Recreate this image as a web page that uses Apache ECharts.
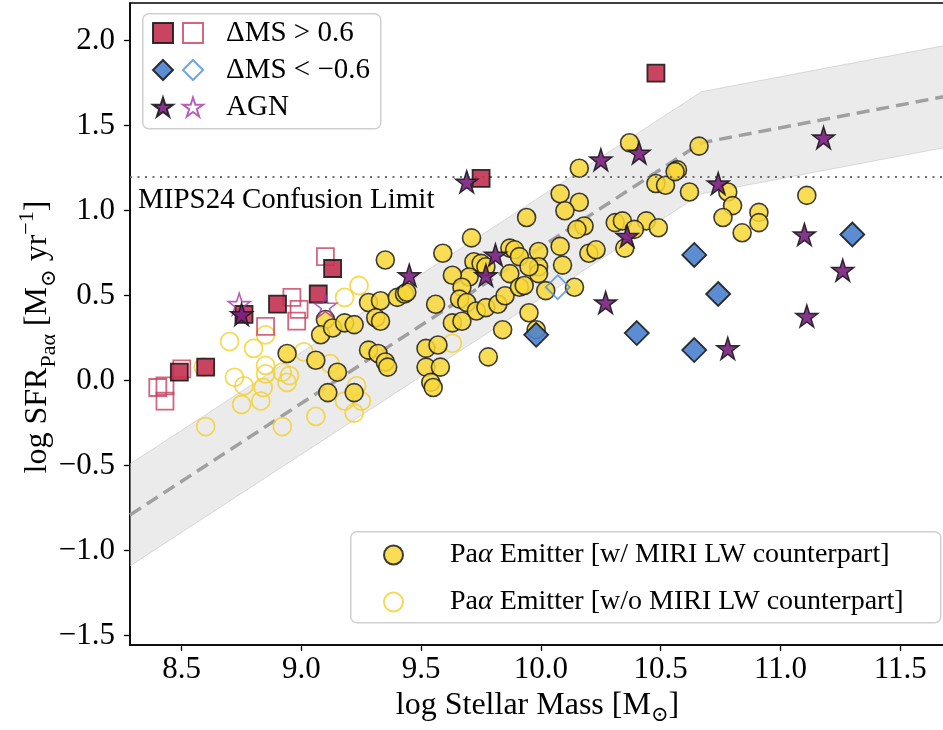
<!DOCTYPE html>
<html>
<head>
<meta charset="utf-8">
<script src="https://cdn.jsdelivr.net/npm/echarts@6/dist/echarts.min.js"></script>
<style>html,body{margin:0;padding:0;background:#fff}#c{width:943px;height:730px}</style>
</head>
<body>
<div id="c"></div>
<script>
// ---- tick labels ----
const xTicks = [8.5, 9.0, 9.5, 10.0, 10.5, 11.0, 11.5];
const yTicks = [-1.5, -1.0, -0.5, 0.0, 0.5, 1.0, 1.5, 2.0];

// ---- main sequence (dashed) and scatter band ----
const msX = [8.284, 10.67, 11.687];
const msY = [-0.79, 1.40, 1.672];
const msScatter = 0.3;
const mipsLimit = 1.2;

// ---- Pa-alpha emitters with MIRI LW counterpart ----
const emitWith = [
  [9.35,0.71],[8.94,0.16],[9.06,0.12],[9.15,0.05],[9.11,-0.07],[9.22,-0.07],[9.28,0.46],[9.33,0.47],
  [9.31,0.37],[9.33,0.35],[9.40,0.49],[9.43,0.51],[9.10,0.36],[9.08,0.27],[9.13,0.31],[9.18,0.34],
  [9.22,0.33],[9.28,0.18],[9.32,0.16],[9.35,0.11],[9.36,0.08],
  [10.37,1.40],[10.16,1.25],[10.48,1.16],[10.52,1.15],[10.57,1.24],[10.08,1.10],[10.16,1.05],[10.10,1.00],
  [9.94,0.96],[9.71,0.84],[9.59,0.75],[10.18,0.91],[10.15,0.89],[10.31,0.93],[10.34,0.94],[10.44,0.94],
  [10.49,0.90],[10.39,0.89],[10.35,0.78],[10.08,0.79],[10.09,0.68],[9.99,0.76],[9.99,0.67],[9.99,0.63],
  [10.20,0.75],[10.23,0.77],[9.87,0.78],[9.89,0.77],[9.91,0.73],[9.95,0.67],[9.87,0.63],[9.72,0.70],
  [9.75,0.69],[9.77,0.67],[9.70,0.61],[9.63,0.62],[9.67,0.55],[9.66,0.48],[9.69,0.46],[9.73,0.41],
  [9.77,0.43],[9.82,0.45],[9.85,0.50],[9.91,0.55],[9.93,0.56],[10.02,0.53],[10.14,0.55],[9.44,0.52],
  [9.56,0.45],[9.63,0.34],[9.67,0.35],[9.95,0.40],[9.84,0.30],[9.98,0.30],[9.52,0.19],[9.57,0.21],
  [9.52,0.08],[9.58,0.08],[9.54,-0.01],[9.55,-0.04],[9.78,0.14],
  [10.66,1.38],[10.56,1.23],[10.62,1.11],[10.78,1.11],[10.80,1.03],[10.76,0.96],[10.84,0.87],
  [10.91,0.99],[10.91,0.93],[11.11,1.09]
];
// ---- Pa-alpha emitters without MIRI LW counterpart ----
const emitWithout = [
  [8.70,0.23],[8.80,0.19],[8.85,0.27],[9.18,0.49],[9.24,0.56],[8.60,-0.27],[8.72,0.02],[8.76,-0.03],
  [8.85,0.09],[8.85,0.04],[8.84,-0.04],[8.83,-0.12],[8.75,-0.14],[8.92,0.05],[8.95,0.03],[8.94,-0.01],
  [9.01,0.17],[9.12,0.10],[9.18,-0.12],[9.23,-0.03],[9.25,-0.12],[9.22,-0.19],[9.06,-0.21],[8.92,-0.27],
  [8.59,0.08],[9.63,0.22]
];
// ---- dMS > 0.6 ----
const aboveFilled = [[10.48,1.81],[9.75,1.19],[9.13,0.66],[9.07,0.51],[8.90,0.45],[8.76,0.39],[8.49,0.05],[8.60,0.08]];
const aboveOpen = [[9.10,0.73],[8.96,0.49],[8.99,0.42],[8.98,0.35],[8.85,0.32],[8.50,0.07],[8.40,-0.04],[8.43,-0.03],[8.43,-0.12]];
// ---- dMS < -0.6 ----
const belowFilled = [[9.98,0.27],[10.40,0.28],[10.64,0.74],[10.74,0.51],[10.64,0.18],[11.30,0.86]];
const belowOpen = [[10.07,0.55]];
// ---- AGN ----
const agnFilled = [[9.69,1.17],[10.25,1.30],[10.41,1.34],[9.45,0.62],[9.81,0.74],[9.77,0.62],[10.36,0.85],
  [10.27,0.46],[10.74,1.16],[11.18,1.43],[11.10,0.86],[11.26,0.65],[11.11,0.38],[10.78,0.19],[8.75,0.39]];
const agnOpen = [[8.74,0.45],[9.10,0.44]];

const FONT = '"Liberation Serif", "DejaVu Serif", serif';
const STAR = 'path://M0,-100L22.45,-30.9L95.1,-30.9L36.33,11.8L58.8,80.9L0,38.2L-58.8,80.9L-36.33,11.8L-95.1,-30.9L-22.45,-30.9Z';
const EDGE = '#1c1c1c';

const legendText = {
  'sqO': 'ΔMS > 0.6',
  'diaO': 'ΔMS < \u22120.6',
  'starO': 'AGN'
};

const chart = echarts.init(document.getElementById('c'), null, {renderer: 'canvas'});

function fmt(v) { return (v < 0 ? '\u2212' : '') + Math.abs(v).toFixed(1); }

const option = {
  animation: false,
  backgroundColor: '#fff',
  grid: {left: 130, right: -2, top: 3, bottom: 85, show: true, borderColor: '#000', borderWidth: 1.5,
    backgroundColor: 'transparent', containLabel: false, outerBoundsMode: 'none'},
  xAxis: {
    type: 'value', min: 8.284, max: 11.687,
    name: '{a|log Stellar Mass [M}{s|⊙}{a|]}',
    nameLocation: 'middle', nameGap: 41,
    nameTextStyle: {rich: {
      a: {fontFamily: FONT, fontSize: 32, color: '#000', lineHeight: 40, verticalAlign: 'middle'},
      s: {fontFamily: '"DejaVu Serif", serif', fontSize: 21, color: '#000', lineHeight: 22, verticalAlign: 'bottom'}
    }},
    axisLine: {show: true, onZero: false, lineStyle: {color: '#000', width: 1.5}},
    axisTick: {show: true, inside: false, length: 6, lineStyle: {color: '#000', width: 1.3}, customValues: xTicks},
    axisLabel: {customValues: xTicks, formatter: fmt, fontFamily: FONT, fontSize: 31, color: '#000', margin: 9},
    splitLine: {show: false}
  },
  yAxis: {
    type: 'value', min: -1.555, max: 2.222,
    name: '{a|log SFR}{s|Paα}{a| [M}{o|⊙}{a| yr}{p|\u22121}{a|]}',
    nameLocation: 'middle', nameGap: 70, nameRotate: 90, nameMoveOverlap: false,
    nameTextStyle: {padding: [0, 26, 0, 0], rich: {
      a: {fontFamily: FONT, fontSize: 32, color: '#000', lineHeight: 44, verticalAlign: 'middle'},
      s: {fontFamily: FONT, fontSize: 22, color: '#000', lineHeight: 22, verticalAlign: 'bottom'},
      o: {fontFamily: '"DejaVu Serif", serif', fontSize: 21, color: '#000', lineHeight: 22, verticalAlign: 'bottom'},
      p: {fontFamily: FONT, fontSize: 22, color: '#000', lineHeight: 22, verticalAlign: 'top'}
    }},
    axisLine: {show: true, onZero: false, lineStyle: {color: '#000', width: 1.5}},
    axisTick: {show: true, inside: false, length: 6, lineStyle: {color: '#000', width: 1.3}, customValues: yTicks},
    axisLabel: {customValues: yTicks, formatter: fmt, fontFamily: FONT, fontSize: 31, color: '#000', margin: 15},
    splitLine: {show: false}
  },
  legend: [
    {
      // filled symbols (no text)
      data: ['sqF', 'diaF', 'starF'],
      orient: 'vertical', left: 147, top: 10,
      itemWidth: 20, itemHeight: 20, itemGap: 1,
      formatter: () => ' ',
      textStyle: {fontSize: 29, lineHeight: 36, fontFamily: FONT},
      selectedMode: false, z: 6
    },
    {
      // open symbols + text
      data: ['sqO', 'diaO', 'starO'],
      orient: 'vertical', left: 177, top: 10,
      itemWidth: 20, itemHeight: 20, itemGap: 1,
      formatter: (n) => legendText[n],
      textStyle: {fontSize: 29, lineHeight: 36, fontFamily: FONT, color: '#000', padding: [0, 0, 0, 18]},
      selectedMode: false, z: 6
    },
    {
      data: ['w', 'wo'],
      orient: 'vertical', left: 378, top: 528,
      itemWidth: 19, itemHeight: 19, itemGap: 3,
      formatter: (n) => n === 'w' ? 'Pa{i|α} Emitter [w/ MIRI LW counterpart]' : 'Pa{i|α} Emitter [w/o MIRI LW counterpart]',
      textStyle: {fontSize: 28, lineHeight: 44, fontFamily: FONT, color: '#000', padding: [0, 0, 0, 42],
        rich: {i: {fontSize: 28, fontStyle: 'italic', fontFamily: FONT, color: '#000'}}},
      selectedMode: false, z: 6
    }
  ],
  graphic: [
    {type: 'rect', left: 142, top: 13, z: 5, shape: {width: 238, height: 115, r: 6},
      style: {fill: 'rgba(255,255,255,0.85)', stroke: '#cfcfcf', lineWidth: 1.5}},
    {type: 'rect', left: 350, top: 531, z: 5, shape: {width: 590, height: 91, r: 6},
      style: {fill: 'rgba(255,255,255,0.85)', stroke: '#cfcfcf', lineWidth: 1.5}}
  ],
  series: [
    {
      name: 'band', type: 'custom', z: 1, silent: true, clip: true,
      data: [0],
      renderItem: function (params, api) {
        const pts = [];
        for (let i = 0; i < msX.length; i++) pts.push(api.coord([msX[i], msY[i] + msScatter]));
        for (let i = msX.length - 1; i >= 0; i--) pts.push(api.coord([msX[i], msY[i] - msScatter]));
        return {type: 'polygon', shape: {points: pts},
          style: {fill: 'rgba(200,200,200,0.36)', stroke: 'rgba(190,190,190,0.5)', lineWidth: 1}};
      }
    },
    {
      name: 'ms', type: 'line', z: 2, silent: true, symbol: 'none',
      data: msX.map((x, i) => [x, msY[i]]),
      lineStyle: {color: '#a0a0a0', width: 3.5, type: [13, 7]},
      markLine: {
        silent: true, symbol: 'none', animation: false,
        lineStyle: {color: '#707070', width: 2.2, type: [2, 5.5]},
        label: {show: true, position: 'insideStartBottom', formatter: 'MIPS24 Confusion Limit',
          fontFamily: FONT, fontSize: 29, color: '#000', distance: [8, 9]},
        data: [{yAxis: mipsLimit}]
      }
    },
    {
      name: 'wo', type: 'scatter', z: 3, symbol: 'circle', symbolSize: 18,
      data: emitWithout,
      itemStyle: {color: 'rgba(0,0,0,0)', borderColor: '#F4D12C', borderWidth: 1.8}
    },
    {
      name: 'w', type: 'scatter', z: 4, symbol: 'circle', symbolSize: 18,
      data: emitWith,
      itemStyle: {color: '#F8D737', borderColor: EDGE, borderWidth: 1.6, opacity: 0.85}
    },
    {
      name: 'sqO', type: 'scatter', z: 5, symbol: 'rect', symbolSize: 17,
      data: aboveOpen,
      itemStyle: {color: 'rgba(0,0,0,0)', borderColor: '#C8405E', borderWidth: 1.8}
    },
    {
      name: 'sqF', type: 'scatter', z: 5, symbol: 'rect', symbolSize: 17,
      data: aboveFilled,
      itemStyle: {color: '#C3304F', borderColor: EDGE, borderWidth: 1.8, opacity: 0.9}
    },
    {
      name: 'diaO', type: 'scatter', z: 5, symbol: 'diamond', symbolSize: 24,
      data: belowOpen,
      itemStyle: {color: 'rgba(0,0,0,0)', borderColor: '#4B8FE2', borderWidth: 1.8}
    },
    {
      name: 'diaF', type: 'scatter', z: 5, symbol: 'diamond', symbolSize: 24,
      data: belowFilled,
      itemStyle: {color: '#4A80CC', borderColor: EDGE, borderWidth: 1.8, opacity: 0.9}
    },
    {
      name: 'starO', type: 'scatter', z: 6, symbol: STAR, symbolSize: 22,
      data: agnOpen,
      itemStyle: {color: 'rgba(0,0,0,0)', borderColor: '#A63AAA', borderWidth: 1.6}
    },
    {
      name: 'starF', type: 'scatter', z: 6, symbol: STAR, symbolSize: 22,
      data: agnFilled,
      itemStyle: {color: '#7A1E80', borderColor: EDGE, borderWidth: 1.5, opacity: 0.9}
    }
  ]
};
chart.setOption(option);
</script>
</body>
</html>
